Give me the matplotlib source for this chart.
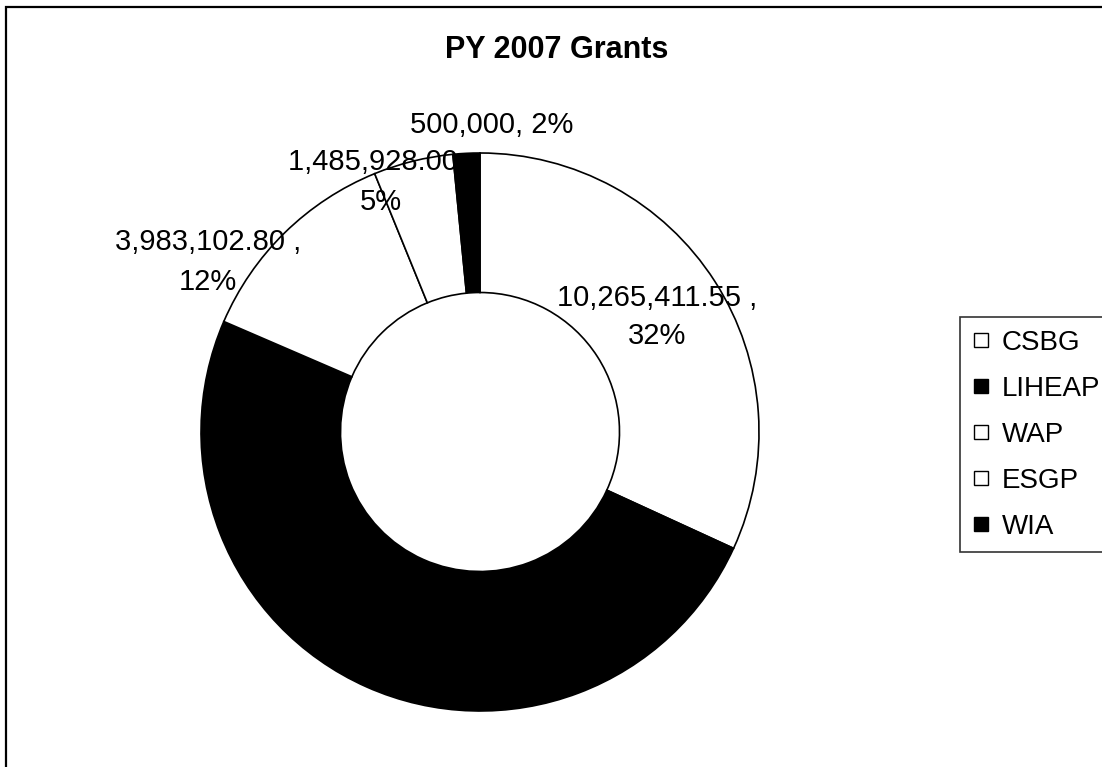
import matplotlib
matplotlib.use("Agg")
import matplotlib.pyplot as plt
from matplotlib.patches import Rectangle
from matplotlib.lines import Line2D

plt.rcParams['font.family'] = ['Liberation Sans', 'DejaVu Sans']

# PY 2007 grant amounts
programs = ['CSBG', 'LIHEAP', 'WAP', 'ESGP', 'WIA']
amounts = [10265411.55, 16000000.00, 3983102.80, 1485928.00, 500000.00]
colors = ['white', 'black', 'white', 'white', 'black']

W, H = 1102, 767
fig = plt.figure(figsize=(W / 100, H / 100), dpi=100)

# chart area frame (runs off the right and bottom)
fig.patches.append(Rectangle((6 / W, -0.1), 1.2, 1 - 7 / H + 0.1, transform=fig.transFigure,
                             fill=False, edgecolor='black', linewidth=1.6))

cx, cy, r = 480, 432, 279
ax = fig.add_axes([(cx - r) / W, (H - cy - r) / H, 2 * r / W, 2 * r / H])
wedges, _ = ax.pie(amounts, colors=colors, startangle=90, counterclock=False, radius=1,
                   wedgeprops=dict(width=0.5, edgecolor='black', linewidth=1.2))
ax.set_xlim(-1, 1)
ax.set_ylim(-1, 1)
ax.set_aspect('equal')
ax.axis('off')

total = sum(amounts)
pct = [round(100 * a / total) for a in amounts]


def px(x, y):
    return (x - cx) / r, (cy - y) / r


label_pos = {'CSBG': px(657, 317), 'WAP': px(208, 262), 'ESGP': px(381, 182), 'WIA': px(492, 125)}
for name, a, p in zip(programs, amounts, pct):
    if name not in label_pos:
        continue
    if name == 'WIA':
        txt = f"{a:,.0f}, {p}%"
    else:
        txt = f"{a:,.2f} ,\n{p}%"
    ax.text(*label_pos[name], txt, ha='center', va='center', fontsize=21,
            linespacing=1.5, zorder=5, clip_on=False)

fig.text(557 / W, 1 - 50 / H, 'PY 2007 Grants', ha='center', va='center',
         fontsize=22, fontweight='bold')

# square swatches for the legend, filled like the slices
handles = [Line2D([], [], linestyle='none', marker='s', markersize=10,
                  markerfacecolor=c, markeredgecolor='black', markeredgewidth=1.0)
           for c in colors]
leg = fig.legend(handles, programs, loc='upper left', bbox_to_anchor=(960 / W, 1 - 317 / H),
                 bbox_transform=fig.transFigure, fontsize=20, frameon=True, fancybox=False,
                 handlelength=0.6, handletextpad=0.45, borderpad=0.45,
                 labelspacing=0.72, borderaxespad=0)
leg.get_frame().set_edgecolor('black')
leg.get_frame().set_linewidth(1.2)

fig.savefig('out.png', dpi=100, facecolor='white')
